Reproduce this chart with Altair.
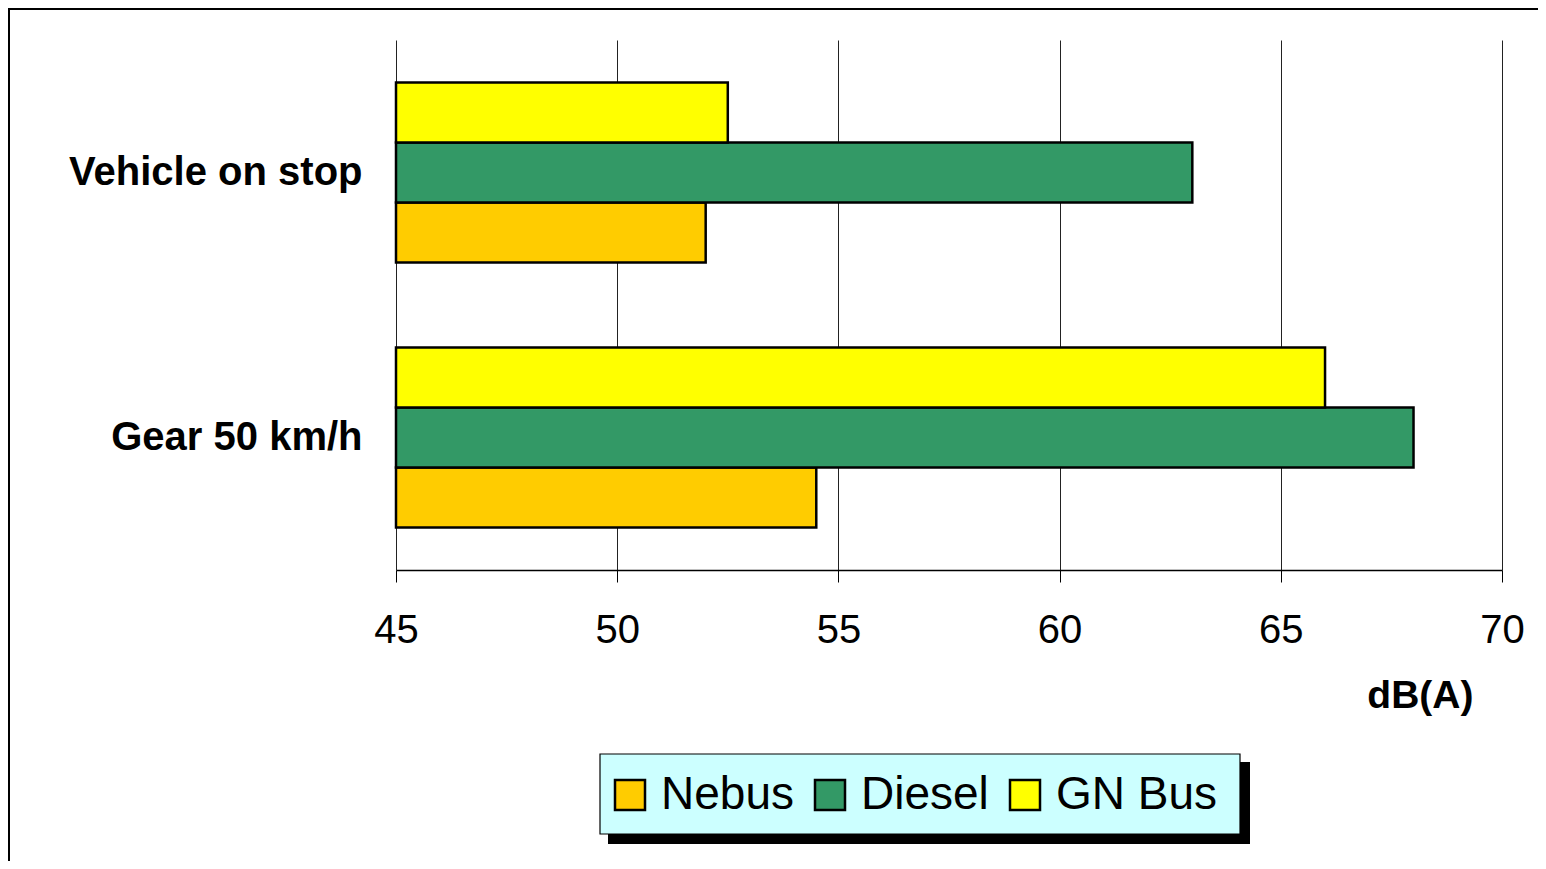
import altair as alt
import pandas as pd

categories = ["Vehicle on stop", "Gear 50 km/h"]
series = ["Nebus", "Diesel", "GN Bus"]
nebus = [52.0, 54.5]
diesel = [63.0, 68.0]
gn_bus = [52.5, 66.0]
x_ticks = [45, 50, 55, 60, 65, 70]
colors = ["#FFCC00", "#339966", "#FFFF00"]

rows = []
for i, c in enumerate(categories):
    for s, vals in zip(series, [nebus, diesel, gn_bus]):
        rows.append({"category": c, "series": s, "value": vals[i]})
df = pd.DataFrame(rows)

W, H = 1106, 530
PAD_L, PAD_T, PAD_R, PAD_B = 388, 32, 36, 291
FONT = "Liberation Sans"

bars = alt.Chart(df).mark_bar(stroke="black", strokeWidth=2.5).encode(
    x=alt.X("value:Q",
            scale=alt.Scale(domain=[45, 70], nice=False, zero=False, clamp=True),
            axis=alt.Axis(values=x_ticks, title="dB(A)", format="d",
                          labelFontSize=40, labelFont=FONT, labelColor="black",
                          labelFlush=False, labelOverlap=False,
                          labelPadding=28, tickSize=12, tickColor="black",
                          domainColor="black", domainWidth=1.5,
                          gridColor="#222222", gridWidth=1,
                          titleFont=FONT, titleFontSize=39, titleFontWeight="bold",
                          titleColor="black", titleAlign="right", titleBaseline="middle",
                          titleX=1077, titleY=125, titleAnchor="end")),
    x2=alt.datum(45),
    y=alt.Y("category:N", sort=categories,
            scale=alt.Scale(paddingInner=0.32, paddingOuter=0.16),
            axis=alt.Axis(title=None, domain=False, ticks=False, grid=False,
                          labelFontSize=40, labelFont=FONT, labelFontWeight="bold",
                          labelColor="black", labelPadding=34, labelLimit=400)),
    yOffset=alt.YOffset("series:N", sort=["GN Bus", "Diesel", "Nebus"],
                        scale=alt.Scale(paddingInner=0, paddingOuter=0)),
    color=alt.Color("series:N",
                    scale=alt.Scale(domain=series, range=colors),
                    legend=alt.Legend(title=None, orient="none", legendX=211, legendY=732,
                                      direction="horizontal", padding=0,
                                      symbolType="square", symbolSize=900,
                                      symbolStrokeColor="black", symbolStrokeWidth=2.5,
                                      symbolOpacity=1,
                                      labelFontSize=46, labelFont=FONT, labelColor="black",
                                      labelOffset=8, columnPadding=13, labelLimit=300)),
)

one = pd.DataFrame({"k": [0]})

frame = alt.Chart(one).mark_rect(
    filled=False, stroke="black", strokeWidth=2
).encode(
    x=alt.value(-PAD_L + 1), x2=alt.value(W + PAD_R + 20),
    y=alt.value(-PAD_T + 1), y2=alt.value(H + PAD_B + 20),
)

shadow = alt.Chart(one).mark_rect(fill="black").encode(
    x=alt.value(212), x2=alt.value(854),
    y=alt.value(722), y2=alt.value(804),
)

legend_box = alt.Chart(one).mark_rect(fill="#CCFFFF", stroke="black", strokeWidth=1.2).encode(
    x=alt.value(204), x2=alt.value(844),
    y=alt.value(714), y2=alt.value(794),
)

chart = alt.layer(frame, shadow, legend_box, bars).properties(
    width=W, height=H,
    autosize=alt.AutoSizeParams(type="none"),
    padding={"left": PAD_L, "top": PAD_T, "right": PAD_R, "bottom": PAD_B},
    background="white",
).configure_view(stroke=None)

chart.save("out.html", embed_options={"renderer": "svg", "actions": False})
